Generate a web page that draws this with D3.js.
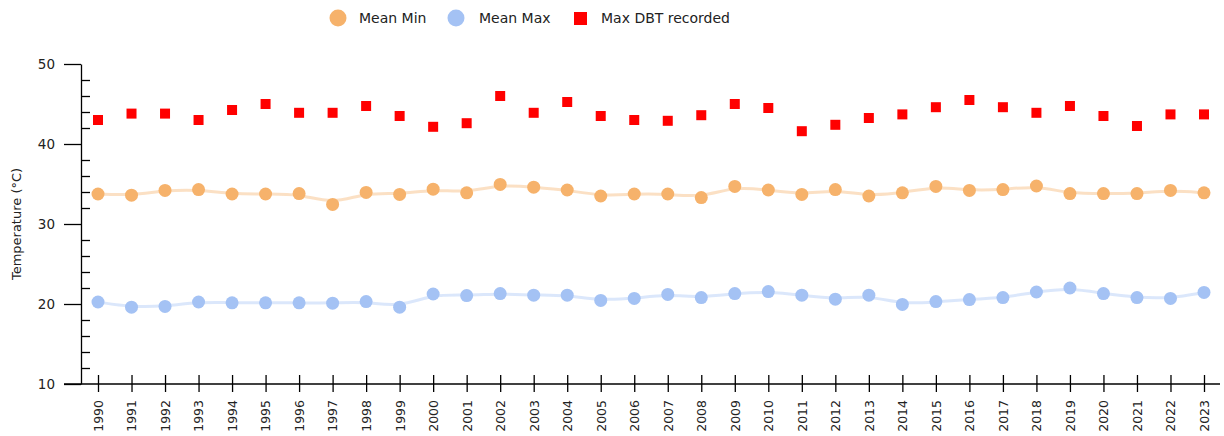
<!DOCTYPE html>
<html>
<head>
<meta charset="utf-8">
<script src="https://cdn.jsdelivr.net/npm/d3@7"></script>
<style>
  body { margin: 0; background: #fff; }
  text { font-family: "DejaVu Sans", sans-serif; fill: #222; }
  .axis path, .axis line { stroke: #000; stroke-width: 1.3; }
</style>
</head>
<body>
<div id="chart"></div>
<script>
// data
const years = d3.range(1990, 2024);
const meanMin = [33.75, 33.6, 34.2, 34.3, 33.75, 33.75, 33.8, 32.45, 33.95, 33.7,
  34.35, 33.9, 34.95, 34.6, 34.25, 33.5, 33.75, 33.75, 33.3, 34.7,
  34.25, 33.7, 34.3, 33.5, 33.9, 34.7, 34.2, 34.3, 34.75, 33.8,
  33.8, 33.8, 34.2, 33.9];
const meanMax = [20.25, 19.6, 19.7, 20.25, 20.15, 20.15, 20.15, 20.1, 20.3, 19.6,
  21.25, 21.05, 21.3, 21.1, 21.1, 20.45, 20.7, 21.2, 20.8, 21.3,
  21.55, 21.1, 20.6, 21.1, 19.95, 20.3, 20.55, 20.8, 21.5, 22.0,
  21.3, 20.8, 20.7, 21.45];
const maxDBT = [43.0, 43.8, 43.8, 43.0, 44.25, 45.0, 43.9, 43.9, 44.75, 43.5,
  42.15, 42.6, 46.0, 43.9, 45.25, 43.5, 43.0, 42.9, 43.6, 45.0,
  44.5, 41.6, 42.4, 43.25, 43.7, 44.6, 45.5, 44.6, 43.9, 44.75,
  43.5, 42.25, 43.7, 43.7];
const yMajor = [10, 20, 30, 40, 50];
const yMinor = d3.range(12, 50, 2).filter(v => v % 10 !== 0);

const width = 1224, height = 436;
const colMin = "#f6b26b", colMax = "#a4c2f4", colDBT = "#ff0000";

const svg = d3.select("#chart").append("svg")
  .attr("width", width)
  .attr("height", height);

const x = d3.scalePoint().domain(years).range([98, 1204]);
const y = d3.scaleLinear().domain([10, 50]).range([384, 64]);

// y axis: major ticks outside, minor ticks inside
const yAxis = svg.append("g")
  .attr("class", "axis")
  .attr("transform", "translate(81,0)")
  .call(d3.axisLeft(y).tickValues(yMajor).tickSize(17).tickSizeOuter(0).tickPadding(9));
yAxis.selectAll("text").style("font-size", "13.5px");

svg.append("g")
  .attr("class", "axis")
  .attr("transform", "translate(81,0)")
  .call(d3.axisRight(y).tickValues(yMinor).tickSize(9).tickFormat(""))
  .call(g => g.select(".domain").remove());

// x axis: ticks crossing the line
const xAxis = svg.append("g")
  .attr("class", "axis")
  .attr("transform", "translate(0,384)")
  .call(d3.axisBottom(x).tickSize(8).tickPadding(8))
  .call(g => g.select(".domain").remove());
xAxis.selectAll(".tick line").attr("y1", -9);
xAxis.append("line")
  .attr("x1", 64).attr("x2", 1220)
  .attr("stroke", "#000").attr("stroke-width", 1.3);
xAxis.selectAll(".tick text")
  .style("font-size", "12.5px")
  .attr("transform", "rotate(-90)")
  .attr("text-anchor", "end")
  .attr("x", -16)
  .attr("y", 0)
  .attr("dy", "0.35em");

svg.append("text")
  .attr("transform", "translate(21,224) rotate(-90)")
  .attr("text-anchor", "middle")
  .style("font-size", "13px")
  .text("Temperature (°C)");

// smoothed lines
const line = d3.line()
  .x((d, i) => x(years[i]))
  .y(d => y(d))
  .curve(d3.curveBasis);

svg.append("path").datum(meanMin)
  .attr("d", line).attr("fill", "none")
  .attr("stroke", colMin).attr("stroke-opacity", 0.4).attr("stroke-width", 3);
svg.append("path").datum(meanMax)
  .attr("d", line).attr("fill", "none")
  .attr("stroke", colMax).attr("stroke-opacity", 0.4).attr("stroke-width", 3);

svg.append("g").selectAll("circle")
  .data(meanMin)
  .join("circle")
  .attr("cx", (d, i) => x(years[i]))
  .attr("cy", d => y(d))
  .attr("r", 6.5)
  .attr("fill", colMin);

svg.append("g").selectAll("circle")
  .data(meanMax)
  .join("circle")
  .attr("cx", (d, i) => x(years[i]))
  .attr("cy", d => y(d))
  .attr("r", 6.5)
  .attr("fill", colMax);

svg.append("g").selectAll("rect")
  .data(maxDBT)
  .join("rect")
  .attr("x", (d, i) => x(years[i]) - 5)
  .attr("y", d => y(d) - 5)
  .attr("width", 10)
  .attr("height", 10)
  .attr("fill", colDBT);

// legend
const legend = svg.append("g").style("font-size", "14px");
legend.append("circle").attr("cx", 338).attr("cy", 18).attr("r", 8.5).attr("fill", colMin);
legend.append("text").attr("x", 359).attr("y", 23).text("Mean Min");
legend.append("circle").attr("cx", 456).attr("cy", 18).attr("r", 8.5).attr("fill", colMax);
legend.append("text").attr("x", 479).attr("y", 23).text("Mean Max");
legend.append("rect").attr("x", 574).attr("y", 12).attr("width", 13).attr("height", 13).attr("fill", colDBT);
legend.append("text").attr("x", 601).attr("y", 23).text("Max DBT recorded");
</script>
</body>
</html>
